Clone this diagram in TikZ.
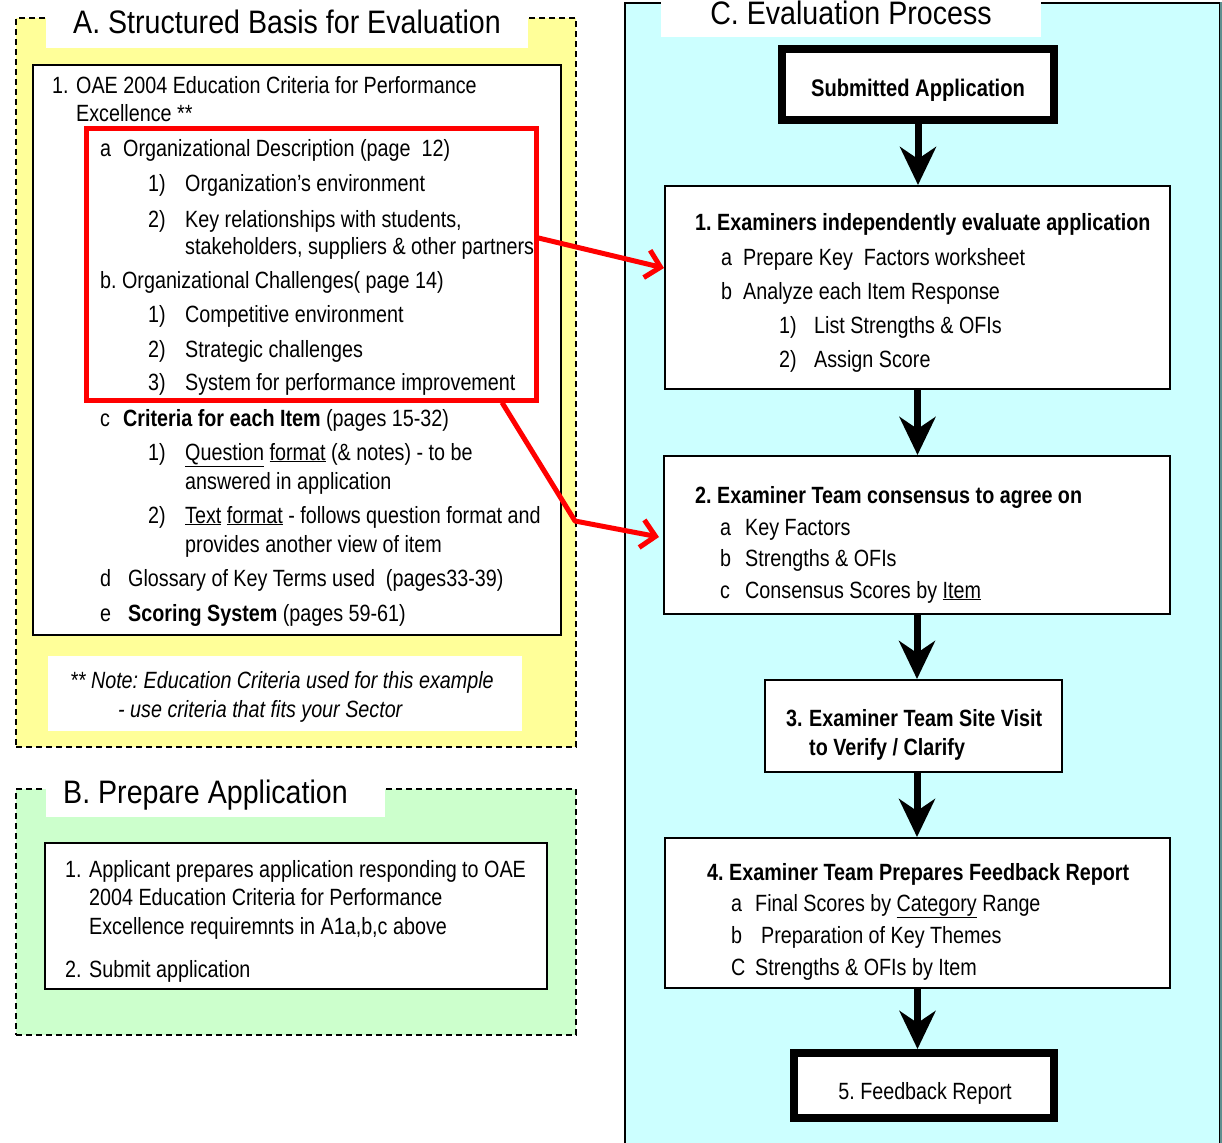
\documentclass[tikz,border=0pt]{standalone}
\usepackage{fontspec}
\setmainfont{Liberation Sans}[FakeStretch=0.84]
\newfontfamily\headfont{Liberation Sans}[FakeStretch=0.88]
\usetikzlibrary{arrows.meta,calc}
\definecolor{paleyellow}{HTML}{FFFF99}
\definecolor{palegreen}{HTML}{CCFFCC}
\definecolor{palecyan}{HTML}{CCFFFF}
\definecolor{edgeteal}{HTML}{5F8F8F}
\frenchspacing
\begin{document}
\begin{tikzpicture}[x=1pt,y=-1pt,
  txt/.style={anchor=base west,inner sep=0pt,font=\fontsize{23.5}{28}\selectfont},
  ctxt/.style={anchor=base,inner sep=0pt,font=\fontsize{23.5}{28}\selectfont},
  ttl/.style={anchor=base,inner sep=0pt,font=\headfont\fontsize{32.5}{38}\selectfont},
  panel/.style={draw=black,line width=1.5pt,dash pattern=on 6pt off 4pt,inner sep=0pt},
  patch/.style={fill=white,draw=none,inner sep=0pt},
  frame/.style={draw=black,line width=2pt,fill=white,inner sep=0pt},
  dblout/.style={draw=black,line width=8pt,fill=white,inner sep=0pt},
  flow/.style={line width=7pt,-{Stealth[length=38pt,width=36pt,inset=12pt]}},
  link/.style={draw=red,line width=5pt,line join=round,-{Straight Barb[length=14pt,width=28pt]}},
  hl/.style={draw=red,line width=5pt,inner sep=0pt}
]
\useasboundingbox (0,0) rectangle (1222,1142);
\clip (0,0) rectangle (1222,1142);
\fill[white] (0,0) rectangle (1222,1142);

% ---------- Panel A: structured basis ----------
\node[panel,fill=paleyellow,minimum width=560pt,minimum height=729pt] (panA) at (296,382.5) {};
\node[patch,minimum width=482pt,minimum height=52pt] (patA) at (287,22) {};
\node[ttl] (ttlA) at (287,34) {A. Structured Basis for Evaluation};
\node[frame,minimum width=528pt,minimum height=570pt] (inA) at (297,350) {};

\node[txt] (a1) at (52,94) {\makebox[24pt][l]{1.}OAE 2004 Education Criteria for Performance};
\node[txt] (a2) at (76,122) {Excellence **};
\node[txt] (a3) at (100,157) {\makebox[23pt][l]{a}Organizational Description (page\ \ 12)};
\node[txt] (a4) at (148,191) {\makebox[37pt][l]{1)}Organization’s environment};
\node[txt] (a5) at (148,227) {\makebox[37pt][l]{2)}Key relationships with students,};
\node[txt] (a6) at (185,254) {stakeholders, suppliers \& other partners};
\node[txt] (a7) at (100,288) {b. Organizational Challenges( page 14)};
\node[txt] (a8) at (148,322) {\makebox[37pt][l]{1)}Competitive environment};
\node[txt] (a9) at (148,357) {\makebox[37pt][l]{2)}Strategic challenges};
\node[txt] (a10) at (148,390) {\makebox[37pt][l]{3)}System for performance improvement};
\node[txt] (a11) at (100,426) {\makebox[23pt][l]{c}\textbf{Criteria for each Item} (pages 15-32)};
\node[txt] (a12) at (148,460) {\makebox[37pt][l]{1)}\underline{Question} \underline{format} (\& notes) - to be};
\node[txt] (a13) at (185,489) {answered in application};
\node[txt] (a14) at (148,523) {\makebox[37pt][l]{2)}\underline{Text} \underline{format} - follows question format and};
\node[txt] (a15) at (185,552) {provides another view of item};
\node[txt] (a16) at (100,586) {\makebox[28pt][l]{d}Glossary of Key Terms used\ \ (pages33-39)};
\node[txt] (a17) at (100,621) {\makebox[28pt][l]{e}\textbf{Scoring System} (pages 59-61)};

\node[hl,minimum width=450pt,minimum height=271pt] (hlbox) at (311,264.5) {};

\node[patch,minimum width=474pt,minimum height=75pt] (noteA) at (285,693.5) {};
\node[txt,font=\fontsize{23.5}{28}\selectfont\itshape] (n1) at (70,688) {** Note: Education Criteria used for this example};
\node[txt,font=\fontsize{23.5}{28}\selectfont\itshape] (n2) at (118,717) {- use criteria that fits your Sector};

% ---------- Panel B: prepare application ----------
\node[panel,fill=palegreen,minimum width=560pt,minimum height=246pt] (panB) at (296,912) {};
\node[patch,minimum width=339pt,minimum height=40pt] (patB) at (215.5,797) {};
\node[ttl] (ttlB) at (205.5,803) {B. Prepare Application};
\node[frame,minimum width=502pt,minimum height=146pt] (inB) at (296,916) {};
\node[txt] (b1) at (65,877) {\makebox[24pt][l]{1.}Applicant prepares application responding to OAE};
\node[txt] (b2) at (89,905) {2004 Education Criteria for Performance};
\node[txt] (b3) at (89,934) {Excellence requiremnts in A1a,b,c above};
\node[txt] (b4) at (65,977) {\makebox[24pt][l]{2.}Submit application};

% ---------- Panel C: evaluation process ----------
\node[fill=palecyan,draw=black,line width=2pt,inner sep=0pt,minimum width=595pt,minimum height=1160pt] (panC) at (922.5,583) {};
\draw[edgeteal,line width=2pt] (panC.north east) -- (panC.south east);
\node[patch,minimum width=380pt,minimum height=42pt] (patC) at (851,16) {};
\node[ttl] (ttlC) at (851,25) {C. Evaluation Process};

\node[dblout,minimum width=272pt,minimum height=71pt] (sub) at (918,84.5) {};
\draw[line width=1.5pt] ([shift={(7,7)}]sub.north west) rectangle ([shift={(-7,-7)}]sub.south east);
\node[ctxt,font=\fontsize{24}{28}\selectfont\bfseries] (subt) at (918,97) {Submitted Application};

\node[frame,minimum width=505pt,minimum height=203pt] (box1) at (917.5,287.5) {};
\node[txt,font=\fontsize{23.5}{28}\selectfont\bfseries] (c1) at (695,230) {1. Examiners independently evaluate application};
\node[txt] (c2) at (721,265) {\makebox[22pt][l]{a}Prepare Key\ \ Factors worksheet};
\node[txt] (c3) at (721,299) {\makebox[22pt][l]{b}Analyze each Item Response};
\node[txt] (c4) at (779,333) {\makebox[35pt][l]{1)}List Strengths \& OFIs};
\node[txt] (c5) at (779,367) {\makebox[35pt][l]{2)}Assign Score};

\node[frame,minimum width=506pt,minimum height=158pt] (box2) at (917,535) {};
\node[txt,font=\fontsize{23.5}{28}\selectfont\bfseries] (d1) at (695,503) {2. Examiner Team consensus to agree on};
\node[txt] (d2) at (720,535) {\makebox[25pt][l]{a}Key Factors};
\node[txt] (d3) at (720,566) {\makebox[25pt][l]{b}Strengths \& OFIs};
\node[txt] (d4) at (720,598) {\makebox[25pt][l]{c}Consensus Scores by \underline{Item}};

\node[frame,minimum width=297pt,minimum height=92pt] (box3) at (913.5,726) {};
\node[txt,font=\fontsize{23.5}{28}\selectfont\bfseries] (e1) at (786,726) {\makebox[23pt][l]{3.}Examiner Team Site Visit};
\node[txt,font=\fontsize{23.5}{28}\selectfont\bfseries] (e2) at (809,755) {to Verify / Clarify};

\node[frame,minimum width=505pt,minimum height=150pt] (box4) at (917.5,913) {};
\node[txt,font=\fontsize{23.5}{28}\selectfont\bfseries] (f1) at (707,880) {4. Examiner Team Prepares Feedback Report};
\node[txt] (f2) at (731,911) {\makebox[24pt][l]{a}Final Scores by \underline{Category} Range};
\node[txt] (f3) at (731,943) {\makebox[30pt][l]{b}Preparation of Key Themes};
\node[txt] (f4) at (731,975) {\makebox[24pt][l]{C}Strengths \& OFIs by Item};

\node[dblout,minimum width=260pt,minimum height=65pt] (fin) at (924,1085.5) {};
\draw[line width=1.5pt] ([shift={(7,7)}]fin.north west) rectangle ([shift={(-7,-7)}]fin.south east);
\node[ctxt] (fint) at (925,1099) {5. Feedback Report};

% ---------- process flow ----------
\draw[flow] (sub.south) -- (sub.south |- box1.north);
\draw[flow] (box1.south) -- (box1.south |- box2.north);
\draw[flow] (box2.south) -- (box2.south |- box3.north);
\draw[flow] (box2.south |- box3.south) -- (box2.south |- box4.north);
\draw[flow] (box4.south) -- (box4.south |- fin.north);

% ---------- links from the highlighted criteria ----------
\coordinate (bend) at (575,521);
\draw[link] ([yshift=26.5pt]hlbox.east) -- ([yshift=19.5pt]box1.west);
\draw[link] ([xshift=191pt]hlbox.south) -- (bend) -- ([xshift=-4pt,yshift=-2pt]box2.west);
\end{tikzpicture}
\end{document}
